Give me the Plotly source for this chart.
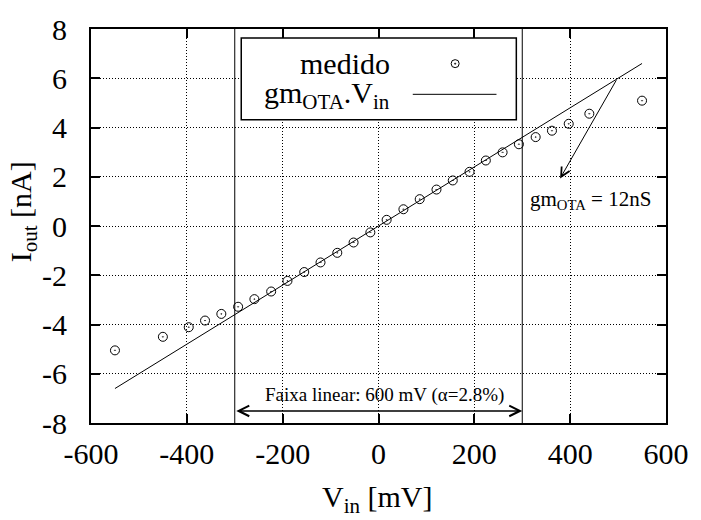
import plotly.graph_objects as go

# ---- data ----
vin_mv = [-550, -450, -396, -362, -328, -293, -259, -224, -190, -155, -121, -86, -52, -17,
          17, 52, 86, 121, 155, 190, 224, 259, 293, 328, 362, 397, 440, 550]
iout_na = [-5.05, -4.50, -4.11, -3.84, -3.57, -3.28, -2.97, -2.66, -2.23, -1.87, -1.48, -1.09, -0.67, -0.26,
           0.25, 0.68, 1.09, 1.48, 1.85, 2.20, 2.66, 2.99, 3.32, 3.61, 3.87, 4.15, 4.56, 5.09]
fit_v = [-550, 550]
fit_i = [-6.6, 6.6]
linear_range = [-300, 300]
x_ticks = [-600, -400, -200, 0, 200, 400, 600]
y_ticks = [-8, -6, -4, -2, 0, 2, 4, 6, 8]

FONT = "Liberation Serif, 'Times New Roman', Times, serif"

fig = go.Figure()
fig.add_trace(go.Scatter(x=fit_v, y=fit_i, mode="lines",
                         line=dict(color="black", width=1), showlegend=False))
fig.add_trace(go.Scatter(x=vin_mv, y=iout_na, mode="markers",
                         marker=dict(symbol="circle-open-dot", size=9, color="black",
                                     line=dict(color="black", width=1)),
                         showlegend=False))

axis_common = dict(showline=True, linecolor="black", linewidth=2, mirror="ticks",
                   ticks="inside", ticklen=9, tickwidth=1.5, tickcolor="black",
                   showgrid=True, gridcolor="black", gridwidth=1, griddash="1px,2px",
                   zeroline=False, tickfont=dict(family=FONT, size=30, color="black"))

fig.update_xaxes(range=[-600, 600], tickvals=x_ticks, ticktext=[str(v) for v in x_ticks],
                 ticklabelstandoff=3, **axis_common)
fig.update_yaxes(range=[-8, 8], tickvals=y_ticks, ticktext=[str(v) for v in y_ticks],
                 ticklabelstandoff=16, **axis_common)

shapes = []
for xv in linear_range:
    shapes.append(dict(type="line", xref="x", yref="paper", x0=xv, x1=xv, y0=0, y1=1,
                       line=dict(color="black", width=1)))
# legend box
shapes.append(dict(type="rect", xref="paper", yref="paper", x0=0.2613, x1=0.7397,
                   y0=0.7696, y1=0.9774, line=dict(color="black", width=1.5),
                   fillcolor="white", layer="above"))
# legend samples
shapes.append(dict(type="line", xref="paper", yref="paper", x0=0.5596, x1=0.7052,
                   y0=0.8342, y1=0.8342, line=dict(color="black", width=1)))
shapes.append(dict(type="circle", xref="paper", yref="paper", xsizemode="pixel", ysizemode="pixel",
                   xanchor=0.6333, yanchor=0.9121, x0=-4, x1=4, y0=-4, y1=4,
                   line=dict(color="black", width=1)))
shapes.append(dict(type="circle", xref="paper", yref="paper", xsizemode="pixel", ysizemode="pixel",
                   xanchor=0.6333, yanchor=0.9121, x0=-0.7, x1=0.7, y0=-0.7, y1=0.7,
                   line=dict(color="black", width=0.5), fillcolor="black"))

annotations = [
    dict(text="medido", xref="paper", yref="paper", x=0.5238, y=0.9135,
         xanchor="right", yanchor="middle", showarrow=False,
         font=dict(family=FONT, size=30, color="black")),
    dict(text="gm<sub>OTA</sub>.V<sub>in</sub>", xref="paper", yref="paper", x=0.5238, y=0.8330,
         xanchor="right", yanchor="middle", showarrow=False,
         font=dict(family=FONT, size=30, color="black")),
    dict(text="gm<sub>OTA</sub> = 12nS", xref="x", yref="y", x=311, y=1.05,
         xanchor="left", yanchor="middle", showarrow=False,
         font=dict(family=FONT, size=21, color="black")),
    dict(text="", xref="x", yref="y", x=379, y=1.93, axref="x", ayref="y", ax=498, ay=5.98,
         showarrow=True, arrowhead=5, arrowsize=1.8, arrowwidth=1, arrowcolor="black", standoff=0),
    dict(text="Faixa linear: 600 mV (α=2.8%)", xref="x", yref="y", x=11.6, y=-6.87,
         xanchor="center", yanchor="middle", showarrow=False,
         font=dict(family=FONT, size=19, color="black")),
    dict(text="", xref="x", yref="y", x=linear_range[1], y=-7.51, axref="x", ayref="y",
         ax=linear_range[0], ay=-7.51, showarrow=True, arrowside="end+start",
         arrowhead=5, startarrowhead=5, arrowsize=1.4, startarrowsize=1.4, arrowwidth=1.5,
         arrowcolor="black", standoff=0, startstandoff=0),
    dict(text="V<sub>in</sub> [mV]", xref="paper", yref="paper", x=0.4974, y=-0.192,
         xanchor="center", yanchor="middle", showarrow=False,
         font=dict(family=FONT, size=30, color="black")),
    dict(text="I<sub>out</sub> [nA]", xref="paper", yref="paper", x=-0.118, y=0.535,
         xanchor="center", yanchor="middle", textangle=-90, showarrow=False,
         font=dict(family=FONT, size=30, color="black")),
]

fig.update_layout(width=701, height=520, margin=dict(l=91, r=31, t=25, b=97),
                  paper_bgcolor="white", plot_bgcolor="white",
                  font=dict(family=FONT, color="black"),
                  shapes=shapes, annotations=annotations, showlegend=False)

fig.write_html("out.html")
